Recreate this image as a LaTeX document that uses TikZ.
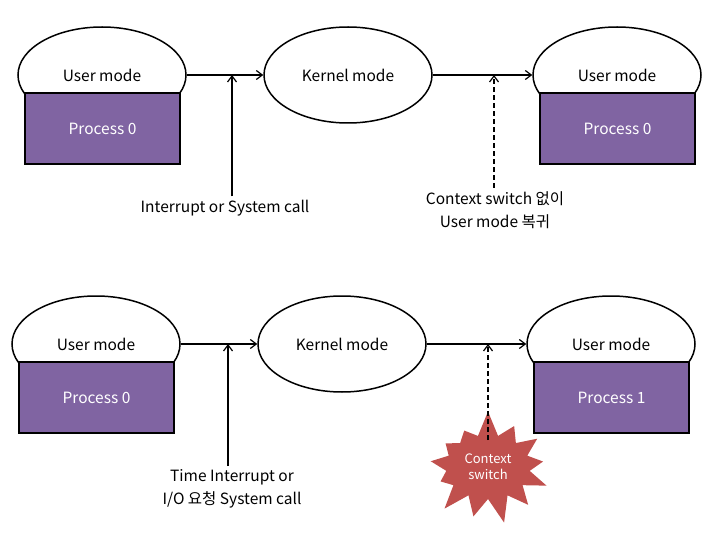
\documentclass[tikz,border=0pt]{standalone}
\usepackage{fontspec}
\setmainfont{Noto Sans CJK KR}
\usepackage{tikz}
\usetikzlibrary{positioning,shapes.geometric,shapes.symbols,arrows.meta,calc}
\definecolor{procpurple}{RGB}{128,100,162}
\definecolor{burstred}{RGB}{192,80,77}

\begin{document}
\begin{tikzpicture}[x=1pt,y=-1pt,
        mode/.style={ellipse, draw=black, line width=1.5pt, fill=white,
                     minimum width=168pt, minimum height=96pt,
                     font=\fontsize{15.5}{18}\selectfont, text depth=0pt},
        proc/.style={rectangle, draw=black, line width=1.5pt, fill=procpurple,
                     minimum width=155pt, minimum height=71pt,
                     text=white, font=\fontsize{15.5}{18}\selectfont},
        lbl/.style={font=\fontsize{15.5}{23}\selectfont, align=center},
        arr/.style={-{Straight Barb[length=6pt,width=9pt]}, line width=1.2pt},
        dsh/.style={dash pattern=on 5pt off 3pt}
      ]
        \useasboundingbox (0,0) rectangle (727,537);
        % top row
        \node[mode] (user0) at (102,75) {};
        \node[proc] (proc0) at (102.5,128.5) {Process 0};
        \node[font=\fontsize{15.5}{18}\selectfont] (user0t) at (102,75) {User mode};
        \node[mode] (kernel0) at (348,75) {Kernel mode};
        \node[mode] (user1) at (617,75) {};
        \node[proc] (proc1) at (617.5,128.5) {Process 0};
        \node[font=\fontsize{15.5}{18}\selectfont] (user1t) at (617,75) {User mode};
        \draw[arr] (user0.east) -- (kernel0.west);
        \draw[arr] (kernel0.east) -- (user1.west);
        \node[lbl] (irq0) at (225,208) {Interrupt or System call};
        \coordinate (j0) at (232,75);
        \draw[arr] (irq0.north -| j0) -- (j0);
        \node[lbl] (noswitch) at (495,210) {Context switch 없이\\User mode 복귀};
        \coordinate (j1) at (494,75);
        \draw[arr, dsh] (noswitch.north -| j1) -- (j1);
        % bottom row
        \node[mode] (user2) at (96,344) {};
        \node[proc] (proc2) at (96.5,397.5) {Process 0};
        \node[font=\fontsize{15.5}{18}\selectfont] (user2t) at (96,344) {User mode};
        \node[mode] (kernel1) at (342,344) {Kernel mode};
        \node[mode] (user3) at (611,344) {};
        \node[proc] (proc3) at (611.5,397.5) {Process 1};
        \node[font=\fontsize{15.5}{18}\selectfont] (user3t) at (611,344) {User mode};
        \draw[arr] (user2.east) -- (kernel1.west);
        \draw[arr] (kernel1.east) -- (user3.west);
        \node[lbl] (irq1) at (232,489) {Time Interrupt or\\I/O 요청 System call};
        \coordinate (j2) at (228,344);
        \draw[arr] (irq1.north -| j2) -- (j2);
        \node[starburst, starburst points=13, starburst point height=26pt,
              fill=burstred, minimum width=136pt, minimum height=116pt,
              text=white, font=\fontsize{13}{16}\selectfont, align=center,
              random starburst=7] (burst) at (488,467) {Context\\switch};
        \coordinate (j3) at (488,344);
        \draw[arr, dsh] ([yshift=27pt]burst.center) -- (j3);
      \end{tikzpicture}
\end{document}
